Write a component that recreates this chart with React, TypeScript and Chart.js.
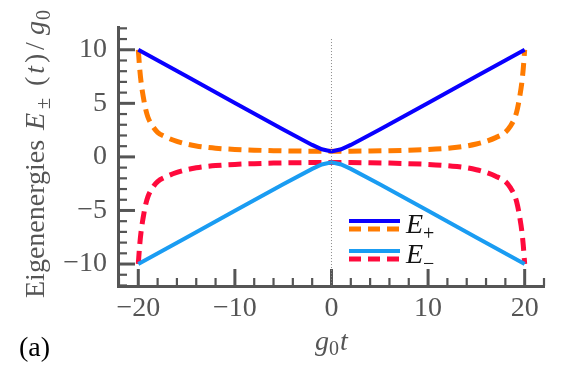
import React, { useEffect, useRef } from "react";
import { Chart, registerables } from "chart.js";

Chart.register(...registerables);

// ---- data ----
const tSolid = [-20, -15, -10, -5, -2, -1, 0, 1, 2, 5, 10, 15, 20];
const ePlusSolid = [10.0, 7.52, 5.02, 2.55, 1.12, 0.71, 0.5, 0.71, 1.12, 2.55, 5.02, 7.52, 10.0];
const eMinusSolid = [-10.0, -7.52, -5.02, -2.55, -1.12, -0.71, -0.5, -0.71, -1.12, -2.55, -5.02, -7.52, -10.0];

const tDashed = [
  -20, -19.85, -19.7, -19.5, -19.25, -19, -18.5, -18, -17, -16, -15, -14, -13, -12, -10, -8, -6, -4, -2,
  0,
  2, 4, 6, 8, 10, 12, 13, 14, 15, 16, 17, 18, 18.5, 19, 19.25, 19.5, 19.7, 19.85, 20,
];
const ePlusDashed = [
  10, 8.2, 6.9, 5.7, 4.5, 3.7, 2.85, 2.3, 1.8, 1.45, 1.2, 1.02, 0.9, 0.81, 0.7, 0.63, 0.58, 0.55, 0.53,
  0.52,
  0.53, 0.55, 0.58, 0.63, 0.7, 0.81, 0.9, 1.02, 1.2, 1.45, 1.8, 2.3, 2.85, 3.7, 4.5, 5.7, 6.9, 8.2, 10,
];
const eMinusDashed = [
  -10, -8.2, -6.9, -5.7, -4.5, -3.7, -2.85, -2.3, -1.8, -1.45, -1.2, -1.02, -0.9, -0.81, -0.7, -0.63, -0.58, -0.55, -0.53,
  -0.52,
  -0.53, -0.55, -0.58, -0.63, -0.7, -0.81, -0.9, -1.02, -1.2, -1.45, -1.8, -2.3, -2.85, -3.7, -4.5, -5.7, -6.9, -8.2, -10,
];

const markerX = [0, 0];
const markerY = [11, -12];

const xTickValues = [-20, -10, 0, 10, 20];
const yTickValues = [-10, -5, 0, 5, 10];

// ---- styles ----
const SERIF = "'Liberation Serif', serif";
const AXIS = "#555555";
const BLUE = "#0a00ff";
const LIGHTBLUE = "#1a9cf2";
const ORANGE = "#ff7b00";
const RED = "#ff0a3c";
const DASH = [13, 7];

Chart.defaults.font.family = SERIF;
Chart.defaults.font.size = 28;
Chart.defaults.color = AXIS;

type Part = { text: string; font: string; dy?: number; gap?: number; at?: number };

function partsWidth(ctx: CanvasRenderingContext2D, parts: Part[]) {
  let w = 0;
  for (const p of parts) {
    ctx.font = p.font;
    w += (p.gap || 0) + ctx.measureText(p.text).width;
  }
  return w;
}

function drawParts(ctx: CanvasRenderingContext2D, parts: Part[], x: number, y: number) {
  let cx = x;
  for (const p of parts) {
    if (p.at !== undefined) cx = x + p.at;
    cx += p.gap || 0;
    ctx.font = p.font;
    ctx.fillText(p.text, cx, y + (p.dy || 0));
    cx += ctx.measureText(p.text).width;
  }
  return cx;
}

const minus = (v: number) => (v < 0 ? "\u2212" + Math.abs(v) : String(v));

const decorations = {
  id: "decorations",
  beforeDatasetsDraw(chart: any) {
    const { ctx, chartArea, scales } = chart;
    const xs = scales.x;
    const ys = scales.y;
    ctx.save();
    ctx.strokeStyle = AXIS;
    ctx.lineCap = "butt";
    for (let v = -12; v <= 12; v++) {
      const py = ys.getPixelForValue(v);
      const major = v % 5 === 0;
      ctx.lineWidth = major ? 3 : 2.2;
      ctx.beginPath();
      ctx.moveTo(chartArea.left, py);
      ctx.lineTo(chartArea.left + (major ? 17 : 9), py);
      ctx.stroke();
    }
    for (let v = -22; v <= 22; v += 2) {
      const px = xs.getPixelForValue(v);
      const major = v % 10 === 0;
      ctx.lineWidth = major ? 3 : 2.2;
      ctx.beginPath();
      ctx.moveTo(px, chartArea.bottom);
      ctx.lineTo(px, chartArea.bottom - (major ? 17 : 8));
      ctx.stroke();
    }
    ctx.restore();
  },
  afterDraw(chart: any) {
    const { ctx } = chart;
    const big = `28px ${SERIF}`;
    const bigI = `italic 28px ${SERIF}`;
    const small = `20px ${SERIF}`;
    ctx.save();
    ctx.textBaseline = "alphabetic";
    ctx.textAlign = "left";

    // y-axis title (rotated)
    ctx.fillStyle = AXIS;
    ctx.save();
    ctx.translate(44, 298);
    ctx.rotate(-Math.PI / 2);
    const yParts: Part[] = [
      { text: "Eigenenergies", font: big, at: 0 },
      { text: "E", font: bigI, at: 168 },
      { text: "\u00b1", font: small, dy: 6, at: 189 },
      { text: "(", font: big, at: 212 },
      { text: "t", font: bigI, gap: 3 },
      { text: ")", font: big, gap: 3 },
      { text: "/", font: big, at: 248 },
      { text: "g", font: bigI, at: 263 },
      { text: "0", font: small, dy: 6, gap: 1 },
    ];
    drawParts(ctx, yParts, 0, 0);
    ctx.restore();

    // x-axis title
    const xParts: Part[] = [
      { text: "g", font: bigI },
      { text: "0", font: small, dy: 5 },
      { text: "t", font: bigI, gap: 1 },
    ];
    const cx = chart.scales.x.getPixelForValue(0);
    const w = partsWidth(ctx, xParts);
    drawParts(ctx, xParts, cx - w / 2, 350);

    // panel tag
    ctx.fillStyle = "#000000";
    ctx.font = big;
    ctx.fillText("(a)", 19, 356);

    // legend
    const lx0 = 349;
    const lx1 = 400;
    const rows = [
      { solid: BLUE, dashed: ORANGE, y: 221, sub: "+" },
      { solid: LIGHTBLUE, dashed: RED, y: 251, sub: "\u2212" },
    ];
    for (const r of rows) {
      ctx.setLineDash([]);
      ctx.lineWidth = 4;
      ctx.strokeStyle = r.solid;
      ctx.beginPath();
      ctx.moveTo(lx0, r.y);
      ctx.lineTo(lx1, r.y);
      ctx.stroke();
      ctx.setLineDash([12, 7]);
      ctx.lineWidth = 5;
      ctx.strokeStyle = r.dashed;
      ctx.beginPath();
      ctx.moveTo(lx0, r.y + 8);
      ctx.lineTo(lx1, r.y + 8);
      ctx.stroke();
      ctx.setLineDash([]);
      ctx.fillStyle = "#111111";
      drawParts(
        ctx,
        [
          { text: "E", font: bigI },
          { text: r.sub, font: small, dy: 7, gap: 0 },
        ],
        406,
        r.y + 12
      );
    }
    ctx.restore();
  },
};

export default function App() {
  const ref = useRef<HTMLCanvasElement | null>(null);

  useEffect(() => {
    if (!ref.current) return;
    const pts = (xs: number[], ys: number[]) => xs.map((x, i) => ({ x, y: ys[i] }));
    const chart = new Chart(ref.current, {
      type: "line",
      data: {
        datasets: [
          {
            label: "marker",
            data: pts(markerX, markerY),
            borderColor: "#8a8a8a",
            borderWidth: 1,
            borderDash: [1, 2],
            pointRadius: 0,
          },
          {
            label: "E+ solid",
            data: pts(tSolid, ePlusSolid),
            borderColor: BLUE,
            borderWidth: 4,
            pointRadius: 0,
          },
          {
            label: "E- solid",
            data: pts(tSolid, eMinusSolid),
            borderColor: LIGHTBLUE,
            borderWidth: 4,
            pointRadius: 0,
          },
          {
            label: "E+ dashed",
            data: pts(tDashed, ePlusDashed),
            borderColor: ORANGE,
            borderWidth: 5,
            borderDash: DASH,
            cubicInterpolationMode: "monotone",
            pointRadius: 0,
          },
          {
            label: "E- dashed",
            data: pts(tDashed, eMinusDashed),
            borderColor: RED,
            borderWidth: 5,
            borderDash: DASH,
            cubicInterpolationMode: "monotone",
            pointRadius: 0,
          },
        ],
      },
      options: {
        responsive: false,
        animation: false,
        events: [],
        layout: { padding: { left: 0, top: 21, right: 21, bottom: 0 } },
        plugins: { legend: { display: false }, tooltip: { enabled: false } },
        scales: {
          x: {
            type: "linear",
            min: -22.1,
            max: 22,
            grid: { display: false, drawTicks: false },
            border: { display: true, color: AXIS, width: 3 },
            ticks: {
              color: AXIS,
              font: { family: SERIF, size: 28 },
              padding: 6,
              maxRotation: 0,
              autoSkip: false,
              callback: (v: any) => minus(Number(v)),
            },
            afterBuildTicks: (s: any) => {
              s.ticks = xTickValues.map((value) => ({ value }));
            },
            afterFit: (s: any) => {
              s.height = 98;
            },
          },
          y: {
            type: "linear",
            min: -12.05,
            max: 12.05,
            grid: { display: false, drawTicks: false },
            border: { display: true, color: AXIS, width: 3 },
            ticks: {
              color: AXIS,
              font: { family: SERIF, size: 28 },
              padding: 11,
              autoSkip: false,
              callback: (v: any) => minus(Number(v)),
            },
            afterBuildTicks: (s: any) => {
              s.ticks = yTickValues.map((value) => ({ value }));
            },
            afterFit: (s: any) => {
              s.width = 118;
            },
          },
        },
      },
      plugins: [decorations],
    } as any);
    return () => chart.destroy();
  }, []);

  return (
    <div style={{ position: "absolute", left: 0, top: 0, width: 565, height: 384, background: "#ffffff" }}>
      <canvas ref={ref} width={565} height={384} style={{ display: "block" }} />
    </div>
  );
}
